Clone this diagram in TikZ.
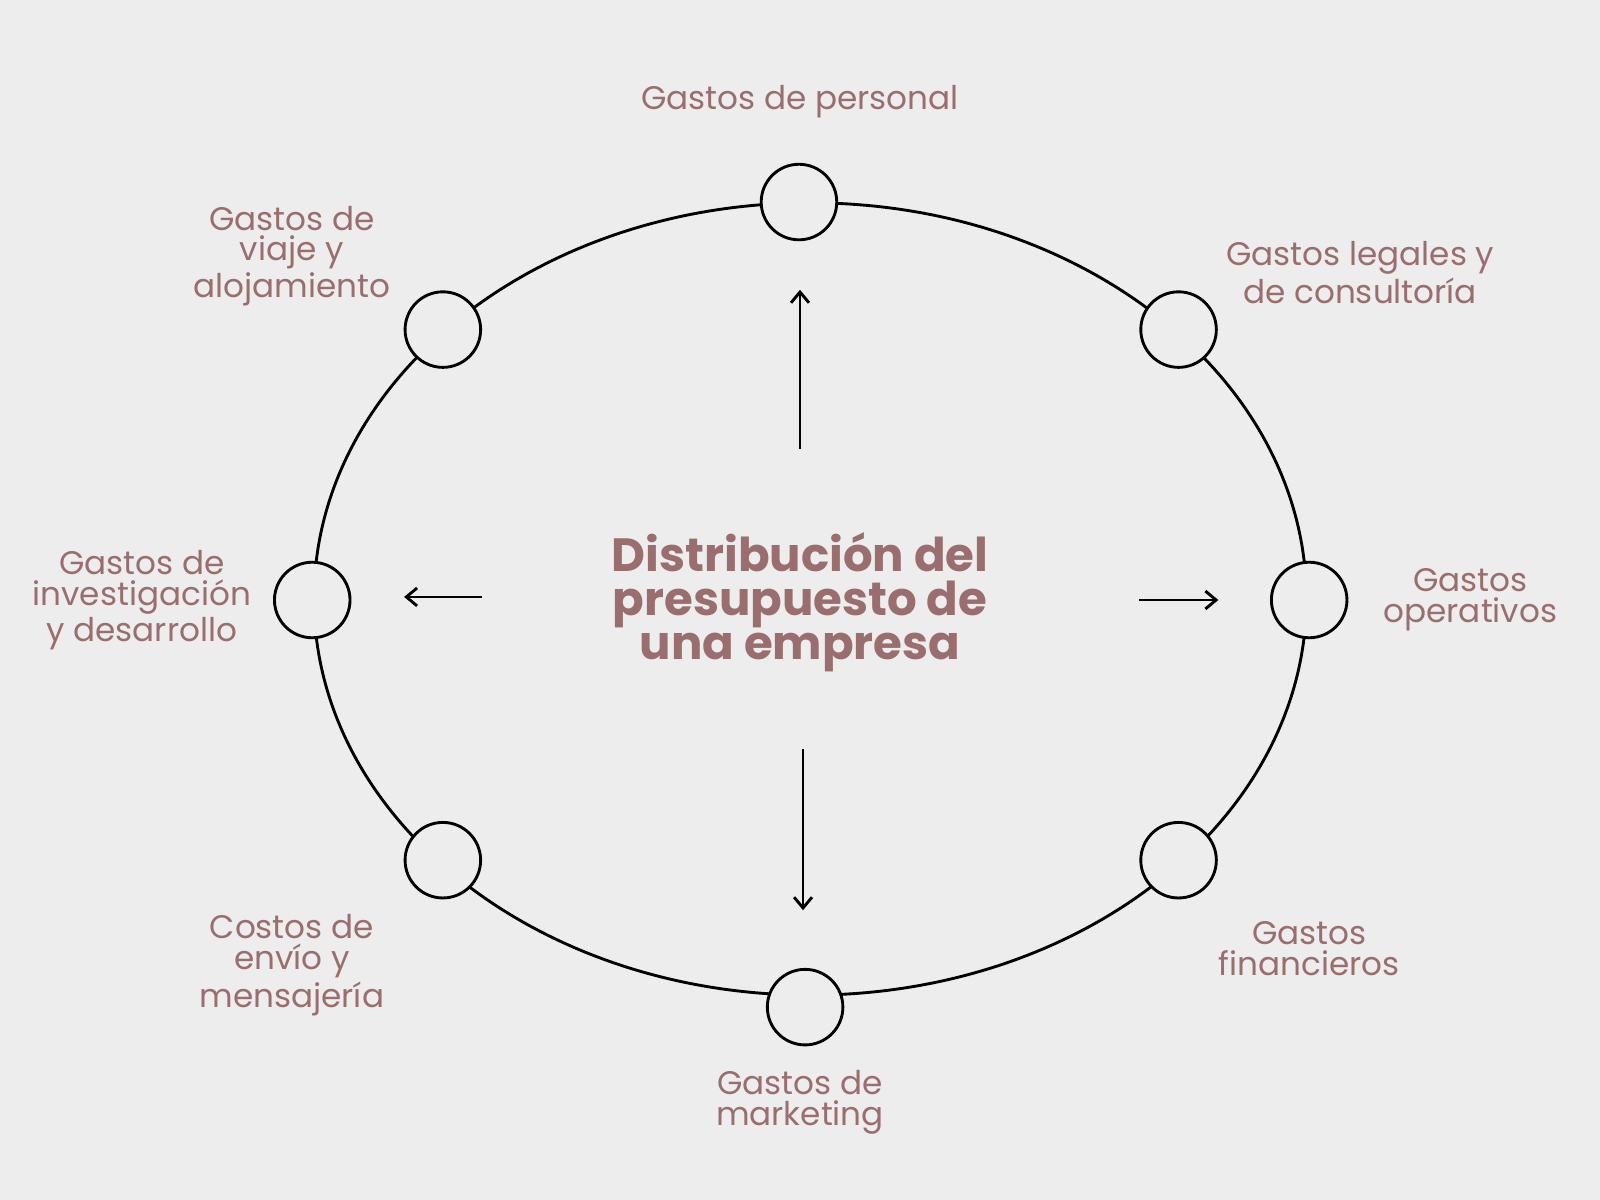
\documentclass[tikz,border=0pt]{standalone}
\usepackage{fontspec}
\usetikzlibrary{arrows.meta}
\setmainfont{Poppins}
\definecolor{bg}{HTML}{EDEDED}
\definecolor{txt}{HTML}{9A6E6E}
\begin{document}
\begin{tikzpicture}[x=0.01cm,y=-0.01cm,
  dot/.style={circle,draw=black,fill=bg,line width=0.8pt,minimum size=0.74cm,inner sep=0pt},
  lbl/.style={text=txt,align=center,font=\fontsize{9.1}{8.6}\selectfont},
  arr/.style={-{Straight Barb[length=3pt,width=5pt]},line width=0.8pt}]
\fill[bg] (0,0) rectangle (1568,1176);
\useasboundingbox (0,0) rectangle (1568,1176);

\draw [line width=0.8pt] (794,587) ellipse [x radius=4.86cm, y radius=3.88cm];

\node[dot] (n1) at (783,198) {};
\node[dot] (n2) at (1155,323) {};
\node[dot] (n3) at (1283,588) {};
\node[dot] (n4) at (1155,843) {};
\node[dot] (n5) at (789,987) {};
\node[dot] (n6) at (434,843) {};
\node[dot] (n7) at (306,588) {};
\node[dot] (n8) at (434,323) {};

\node[text=txt,align=center,font=\fontsize{13}{12.3}\selectfont\bfseries] (title) at (784,590)
  {Distribución del\\presupuesto de\\una empresa};

\coordinate (up0) at (784,440); \coordinate (up1) at (784,284);
\coordinate (lf0) at (472,585); \coordinate (lf1) at (396,585);
\coordinate (rt0) at (1116,588); \coordinate (rt1) at (1194,588);
\coordinate (dn0) at (787,734); \coordinate (dn1) at (787,892);
\draw [arr] (up0) -- (up1);
\draw [arr] (lf0) -- (lf1);
\draw [arr] (rt0) -- (rt1);
\draw [arr] (dn0) -- (dn1);

\node[lbl] at (784,100) {Gastos de personal};
\node[lbl] at (1333,267) {Gastos legales y\\de consultoría};
\node[lbl] at (1441,588) {Gastos\\operativos};
\node[lbl] at (1283,930) {Gastos\\financieros};
\node[lbl] at (784,1080) {Gastos de\\marketing};
\node[lbl] at (286,946) {Costos de\\envío y\\mensajería};
\node[lbl] at (139,588) {Gastos de\\investigación\\y desarrollo};
\node[lbl] at (286,251) {Gastos de\\viaje y\\alojamiento};
\end{tikzpicture}
\end{document}
